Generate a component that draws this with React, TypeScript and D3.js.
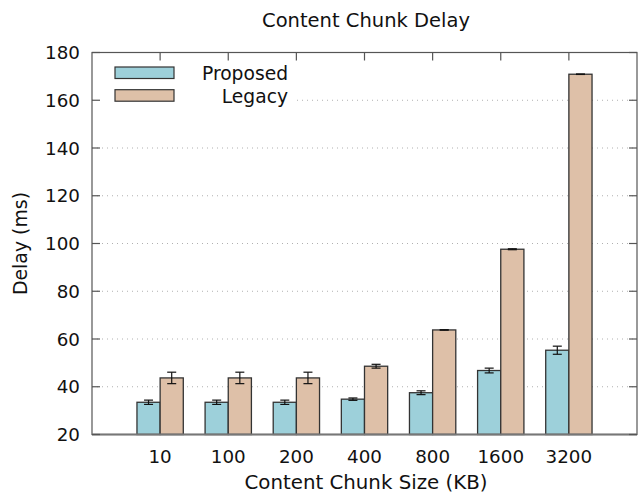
import React, { useEffect, useRef } from "react";
import * as d3 from "d3";

const categories = ["10", "100", "200", "400", "800", "1600", "3200"];
const proposed = [33.5, 33.5, 33.5, 34.8, 37.5, 46.8, 55.3];
const proposedErr = [0.9, 0.9, 0.9, 0.5, 0.8, 1.0, 1.7];
const legacy = [43.7, 43.7, 43.7, 48.6, 63.8, 97.6, 170.9];
const legacyErr = [2.4, 2.4, 2.4, 0.8, 0.1, 0.2, 0.1];
const seriesNames = ["Proposed", "Legacy"];
const yTicks = [20, 40, 60, 80, 100, 120, 140, 160, 180];

const colors = ["#9dd0da", "#dec0a8"];
const font = "DejaVu Sans, sans-serif";

export default function App() {
  const ref = useRef<SVGSVGElement>(null);

  useEffect(() => {
    const svg = d3.select(ref.current);
    svg.selectAll("*").remove();

    const left = 92, right = 637, top = 52.5, bottom = 434.5;

    const x = d3.scaleLinear().domain([-1, 7]).range([left, right]);
    const y = d3.scaleLinear().domain([20, 180]).range([bottom, top]);
    const bw = x(0.34) - x(0);

    // grid
    svg.append("g")
      .selectAll("line")
      .data(yTicks.slice(1, -1))
      .enter().append("line")
      .attr("x1", left).attr("x2", right)
      .attr("y1", d => y(d)).attr("y2", d => y(d))
      .attr("stroke", "#b0b0b0")
      .attr("stroke-width", 1)
      .attr("stroke-dasharray", "1,4");

    // legend background (covers grid)
    svg.append("rect")
      .attr("x", left + 1).attr("y", 60)
      .attr("width", 200).attr("height", 48)
      .attr("fill", "white");

    const all = [proposed, legacy];
    const errs = [proposedErr, legacyErr];

    all.forEach((vals, s) => {
      const g = svg.append("g");
      g.selectAll("rect")
        .data(vals)
        .enter().append("rect")
        .attr("x", (d, i) => x(i) - (s === 0 ? bw : 0))
        .attr("y", d => y(d))
        .attr("width", bw)
        .attr("height", d => y(20) - y(d))
        .attr("fill", colors[s])
        .attr("stroke", "#333")
        .attr("stroke-width", 1.3);

      // error bars
      const eg = svg.append("g").attr("stroke", "#111").attr("stroke-width", 1.2);
      vals.forEach((v, i) => {
        const cx = x(i) + (s === 0 ? -bw / 2 : bw / 2);
        const e = errs[s][i];
        eg.append("line").attr("x1", cx).attr("x2", cx).attr("y1", y(v - e)).attr("y2", y(v + e));
        eg.append("line").attr("x1", cx - 4.5).attr("x2", cx + 4.5).attr("y1", y(v - e)).attr("y2", y(v - e));
        eg.append("line").attr("x1", cx - 4.5).attr("x2", cx + 4.5).attr("y1", y(v + e)).attr("y2", y(v + e));
      });
    });

    // border
    const border = svg.append("g").attr("stroke", "#555").attr("fill", "none");
    border.append("rect")
      .attr("x", left).attr("y", top)
      .attr("width", right - left).attr("height", bottom - top)
      .attr("stroke-width", 1.2);
    border.append("line")
      .attr("x1", left).attr("x2", right)
      .attr("y1", bottom).attr("y2", bottom)
      .attr("stroke", "#777").attr("stroke-width", 2.2);

    // y ticks left/right
    yTicks.forEach(t => {
      border.append("line").attr("x1", left).attr("x2", left + 8).attr("y1", y(t)).attr("y2", y(t)).attr("stroke-width", 1.2);
      border.append("line").attr("x1", right - 8).attr("x2", right).attr("y1", y(t)).attr("y2", y(t)).attr("stroke-width", 1.2);
    });
    // x ticks on top (mirror)
    categories.forEach((c, i) => {
      border.append("line").attr("x1", x(i)).attr("x2", x(i)).attr("y1", top).attr("y2", top + 8).attr("stroke-width", 1.2);
    });

    svg.append("g")
      .selectAll("text")
      .data(yTicks)
      .enter().append("text")
      .attr("x", left - 12)
      .attr("y", d => y(d))
      .attr("dy", "0.36em")
      .attr("text-anchor", "end")
      .attr("font-family", font)
      .attr("font-size", 18.3)
      .attr("fill", "#111")
      .text(d => d);

    svg.append("g")
      .selectAll("text")
      .data(categories)
      .enter().append("text")
      .attr("x", (d, i) => x(i))
      .attr("y", bottom + 28)
      .attr("text-anchor", "middle")
      .attr("font-family", font)
      .attr("font-size", 18.3)
      .attr("fill", "#111")
      .text(d => d);

    svg.append("text")
      .attr("x", 366).attr("y", 27)
      .attr("text-anchor", "middle")
      .attr("font-family", font).attr("font-size", 19.5)
      .attr("fill", "#111")
      .text("Content Chunk Delay");

    svg.append("text")
      .attr("x", 366).attr("y", 489)
      .attr("text-anchor", "middle")
      .attr("font-family", font).attr("font-size", 19.8)
      .attr("fill", "#111")
      .text("Content Chunk Size (KB)");

    svg.append("text")
      .attr("transform", `translate(27,243.5) rotate(-90)`)
      .attr("text-anchor", "middle")
      .attr("font-family", font).attr("font-size", 18.9)
      .attr("fill", "#111")
      .text("Delay (ms)");

    // legend
    seriesNames.forEach((n, i) => {
      const ly = 67 + i * 22.7;
      svg.append("rect")
        .attr("x", 115).attr("y", ly)
        .attr("width", 59).attr("height", 11.5)
        .attr("fill", colors[i])
        .attr("stroke", "#333").attr("stroke-width", 1.2);
      svg.append("text")
        .attr("x", 288).attr("y", ly + 13)
        .attr("text-anchor", "end")
        .attr("font-family", font).attr("font-size", 18.7)
        .attr("fill", "#111")
        .text(n);
    });
  }, []);

  return (
    <svg ref={ref} width={638} height={495}
      style={{ position: "absolute", left: 0, top: 0, background: "white" }} />
  );
}
